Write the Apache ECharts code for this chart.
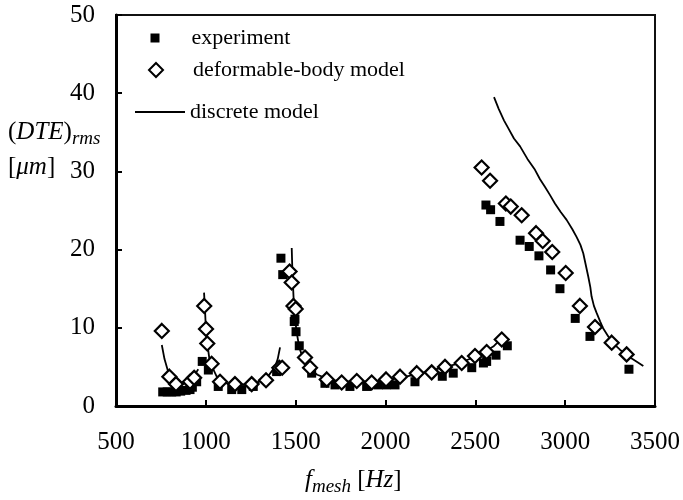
<!DOCTYPE html>
<html>
<head>
<meta charset="utf-8">
<script src="https://cdn.jsdelivr.net/npm/echarts@6/dist/echarts.min.js"></script>
<style>html,body{margin:0;padding:0;background:#fff}#c{width:683px;height:500px}</style>
</head>
<body>
<div id="c"></div>
<script>
// experiment [f_mesh Hz, DTE rms um]
const experiment = [
  [760,1.8],[785,1.8],[810,1.8],[835,1.8],[860,1.9],[890,2.0],[912,2.1],[925,2.4],[949,3.1],
  [980,5.7],[1014,4.6],[1069,2.5],[1144,2.1],[1200,2.1],[1264,2.5],[1394,4.4],
  [1418,18.9],[1428,16.8],[1492,10.8],[1496,11.1],[1502,9.5],[1520,7.7],[1589,4.2],
  [1663,2.9],[1719,2.7],[1802,2.5],[1895,2.5],[1960,2.7],[2006,2.7],[2053,2.7],
  [2164,3.1],[2316,3.8],[2377,4.2],[2480,4.9],[2545,5.5],[2563,5.7],[2615,6.5],[2678,7.7],
  [2559,25.7],[2585,25.1],[2637,23.6],[2749,21.2],[2800,20.4],[2854,19.2],[2919,17.4],
  [2971,15.0],[3056,11.2],[3138,8.9],[3355,4.7]
];
// deformable-body model
const deformable = [
  [755,9.6],[797,3.75],[834,2.8],[912,3.1],[935,3.6],
  [991,12.8],[1001,9.85],[1008,8.0],[1032,5.4],[1079,3.1],[1162,2.8],[1255,2.8],[1335,3.3],
  [1409,4.9],[1425,4.9],[1466,17.2],[1478,15.8],[1488,12.8],[1500,12.4],
  [1552,6.2],[1580,4.9],[1673,3.4],[1756,3.0],[1840,3.2],[1923,3.0],[2003,3.4],[2081,3.75],
  [2174,4.2],[2257,4.3],[2331,5.0],[2424,5.5],[2498,6.4],[2563,6.9],[2647,8.5],
  [2535,30.5],[2582,28.8],[2670,25.9],[2697,25.5],[2758,24.4],[2838,22.1],[2875,21.1],
  [2928,19.7],[3003,17.0],[3082,12.8],[3166,10.1],[3259,8.1],[3342,6.6]
];
// discrete model (separate sweep segments)
const discrete1 = [[755,7.8],[770,6.0],[790,4.4],[810,3.5],[835,2.9],[870,2.8],[905,3.1],[930,3.75],[958,4.7]];
const discrete2 = [[990,14.5],[995,12.5],[1000,10],[1008,8],[1020,6],[1035,5],[1060,3.8],[1100,3.0],
  [1160,2.7],[1250,2.8],[1330,3.3],[1385,5.0],[1400,6.0],[1413,7.5]];
const discrete3 = [[1478,20.2],[1482,17],[1488,14],[1495,11.5],[1505,9.5],[1520,7.5],[1545,5.8],
  [1575,4.8],[1620,4.0],[1700,3.3],[1800,3.1],[1900,3.1],[2000,3.3],[2100,3.7],[2200,4.2],
  [2300,4.8],[2400,5.4],[2500,6.3],[2600,7.6],[2660,9.0]];
const discrete4 = [[2604,39.5],[2630,38.0],[2660,36.5],[2684,35.5],[2715,34.2],[2749,33.2],[2790,31.6],
  [2832,30.2],[2860,29.0],[2888,28.0],[2915,27.0],[2943,25.9],[2975,24.8],[3008,23.8],[3040,22.6],
  [3064,21.6],[3085,20.6],[3101,19.5],[3115,18.0],[3129,16.5],[3140,15.2],[3147,14.0],[3160,12.8],
  [3175,11.9],[3195,10.8],[3212,9.9],[3240,8.9],[3268,8.0],[3305,7.2],[3342,6.5],[3390,5.8],[3435,5.1]];

const xMin = 500, xMax = 3500, xStep = 500;
const yMin = 0, yMax = 50, yStep = 10;

const SERIF = '"Liberation Serif","Times New Roman",serif';
const chart = echarts.init(document.getElementById('c'), null, {renderer:'canvas'});

function lineSeries(d){
  return {name:'discrete model', type:'line', data:d, symbol:'none', showSymbol:false, smooth:false,
    lineStyle:{color:'#000', width:1.8}, itemStyle:{color:'#000'}, z:2, silent:true};
}

chart.setOption({
  animation:false,
  grid:{left:116, right:28, top:15, bottom:94, show:true, borderColor:'#111', borderWidth:2},
  xAxis:{type:'value', min:xMin, max:xMax, interval:xStep,
    axisLine:{onZero:false, lineStyle:{color:'#000', width:3}},
    axisTick:{inside:true, length:6, lineStyle:{color:'#000', width:2}},
    axisLabel:{margin:24, color:'#000', fontFamily:SERIF, fontSize:25, formatter:v=>String(v)},
    splitLine:{show:false}},
  yAxis:{type:'value', min:yMin, max:yMax, interval:yStep,
    axisLine:{onZero:false, lineStyle:{color:'#000', width:3}},
    axisTick:{inside:true, length:6, lineStyle:{color:'#000', width:2}},
    axisLabel:{margin:21, color:'#000', fontFamily:SERIF, fontSize:25, formatter:v=>String(v)},
    splitLine:{show:false}},
  legend:[
    {data:['experiment'], left:150.5, top:27, padding:0, itemWidth:9, itemHeight:9, icon:'rect',
      selectedMode:false, textStyle:{fontFamily:SERIF, fontSize:22, color:'#000', padding:[0,0,0,27]}},
    {data:['deformable-body model'], left:148, top:59, padding:0, itemWidth:14, itemHeight:14, icon:'diamond',
      selectedMode:false, textStyle:{fontFamily:SERIF, fontSize:22, color:'#000', padding:[0,0,0,25]}},
    {data:[{name:'discrete model', icon:'rect'}], left:135, top:101, padding:0, itemWidth:50, itemHeight:2,
      selectedMode:false, textStyle:{fontFamily:SERIF, fontSize:22, color:'#000', padding:[0,0,0,0]}}
  ],
  graphic:[
    {type:'text', left:8, top:120, style:{
      text:'{n|(}{i|DTE}{n|)}{s|rms}',
      rich:{n:{fontFamily:SERIF, fontSize:25, fill:'#000'},
            i:{fontFamily:SERIF, fontSize:25, fontStyle:'italic', fill:'#000'},
            s:{fontFamily:SERIF, fontSize:19, fontStyle:'italic', fill:'#000', padding:[12,0,0,0]}}}},
    {type:'text', left:8, top:155, style:{
      text:'{n|[}{i|μm}{n|]}',
      rich:{n:{fontFamily:SERIF, fontSize:25, fill:'#000'},
            i:{fontFamily:SERIF, fontSize:25, fontStyle:'italic', fill:'#000'}}}},
    {type:'text', left:305, top:468, style:{
      text:'{i|f}{s|mesh}{n| [}{i|Hz}{n|]}',
      rich:{n:{fontFamily:SERIF, fontSize:25, fill:'#000'},
            i:{fontFamily:SERIF, fontSize:25, fontStyle:'italic', fill:'#000'},
            s:{fontFamily:SERIF, fontSize:19, fontStyle:'italic', fill:'#000', padding:[12,0,0,0]}}}}
  ],
  series:[
    lineSeries(discrete1), lineSeries(discrete2), lineSeries(discrete3), lineSeries(discrete4),
    {name:'experiment', type:'scatter', data:experiment, symbol:'rect', symbolSize:9,
      itemStyle:{color:'#000', opacity:1}, z:3, silent:true},
    {name:'deformable-body model', type:'scatter', data:deformable, symbol:'diamond', symbolSize:14,
      itemStyle:{color:'#fff', borderColor:'#000', borderWidth:2.2, opacity:1}, z:4, silent:true}
  ]
});
</script>
</body>
</html>
